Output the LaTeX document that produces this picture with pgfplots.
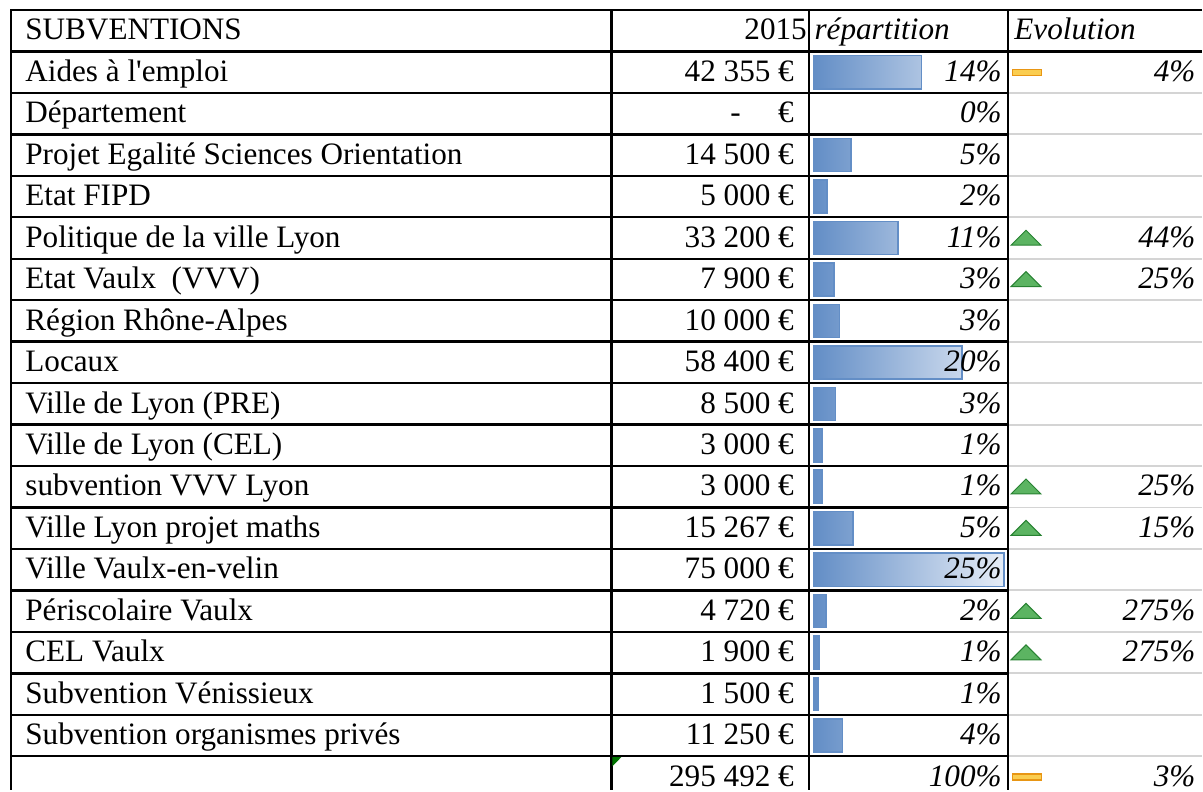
\documentclass[border=0pt]{standalone}
\usepackage{fontspec}
\setmainfont{Liberation Serif}
\usepackage{pgfplots}
\pgfplotsset{compat=1.18}
\usepackage{pgfplotstable}

\definecolor{barblue}{RGB}{99,142,198}
\definecolor{barlight}{RGB}{230,237,247}
\definecolor{gridgray}{RGB}{212,212,212}
\definecolor{trifill}{RGB}{92,180,98}
\definecolor{tridraw}{RGB}{40,130,50}
\definecolor{flatfill}{RGB}{250,205,80}
\definecolor{flatdraw}{RGB}{232,150,20}

% amounts (euros) per row of the table
\pgfplotstableread{
row value
1 42355
3 14500
4 5000
5 33200
6 7900
7 10000
8 58400
9 8500
10 3000
11 3000
12 15267
13 75000
14 4720
15 1900
16 1500
17 11250
}\subv

% evolution: increases
\pgfplotstableread{
row evo
5 44
6 25
11 25
12 15
14 275
15 275
}\up
% evolution: stable
\pgfplotstableread{
row evo
1 4
18 3
}\flat

\pgfdeclareplotmark{evotri}{%
  \pgfpathmoveto{\pgfqpoint{-7.5pt}{-3.6pt}}%
  \pgfpathlineto{\pgfqpoint{7.5pt}{-3.6pt}}%
  \pgfpathlineto{\pgfqpoint{0pt}{3.9pt}}%
  \pgfpathclose\pgfusepathqfillstroke}
\pgfdeclareplotmark{evoflat}{%
  \pgfpathrectangle{\pgfqpoint{-7.3pt}{-1.5pt}}{\pgfqpoint{14.6pt}{3pt}}%
  \pgfusepathqfillstroke}

\pgfplotsset{tbl/.style={scale only axis, width=601.5pt, height=395.5pt,
  hide axis, ymin=-0.7410, ymax=18.3193, y dir=reverse, clip=false}}

\tikzset{
  lab/.style={anchor=base west, yshift=-4.6pt, inner sep=0pt, font=\fontsize{15.6}{18}\selectfont},
  num/.style={anchor=base east, yshift=-4.6pt, inner sep=0pt, font=\fontsize{15.6}{18}\selectfont},
  pct/.style={anchor=base east, yshift=-4.6pt, inner sep=0pt, font=\fontsize{15.6}{18}\selectfont\itshape},
  blk/.style={black, line width=1.2pt},
  gry/.style={gridgray, line width=1pt},
}

\begin{document}
\begin{tikzpicture}
% ---- bars (0 euro at pixel 815, 75000 euro at pixel 1005)
\begin{axis}[tbl, xmin=-321710.53, xmax=153157.89]
\path (rel axis cs:0,0) rectangle (rel axis cs:1,1);
\addplot[xbar, bar width=0.8, draw=barblue, line width=0.75pt,
  left color=barblue, right color=barlight] table[x=value, y=row] {\subv};
\end{axis}
% ---- table, texts and icons (x in pixels, y in rows)
\begin{axis}[tbl, xmin=0, xmax=1203]
\path (rel axis cs:0,0) rectangle (rel axis cs:1,1);
% grid
\pgfplotsinvokeforeach{1.5,2.5,3.5,4.5,5.5,6.5,7.5,8.5,9.5,10.5,11.5,12.5,13.5,14.5,15.5,16.5,17.5}{
  \draw[gry] (axis cs:1009,#1) -- (axis cs:1203,#1);
  \draw[blk] (axis cs:11,#1) -- (axis cs:1009,#1);
}
\draw[blk] (axis cs:10.4,-0.5) -- (axis cs:1203,-0.5);
\draw[blk] (axis cs:11,0.5) -- (axis cs:1203,0.5);
\pgfplotsinvokeforeach{11,612,810,1009}{
  \draw[blk] (axis cs:#1,-0.5) -- (axis cs:#1,18.3193);
}
\fill[green!45!black] (axis cs:613,17.52) -- (axis cs:622,17.52) -- (axis cs:613,17.74) -- cycle;
% icons
\addplot[only marks, mark=evotri, mark options={fill=trifill, draw=tridraw, line width=0.5pt}]
  table[x expr=1027, y=row] {\up};
\addplot[only marks, mark=evoflat, mark options={fill=flatfill, draw=flatdraw, line width=0.6pt}]
  table[x expr=1028, y=row] {\flat};
% header
\node[lab] at (axis cs:25,0) {SUBVENTIONS};
\node[num] at (axis cs:808,0) {2015};
\node[lab,font=\fontsize{15.6}{18}\selectfont\itshape] at (axis cs:815,0) {répartition};
\node[lab,font=\fontsize{15.6}{18}\selectfont\itshape] at (axis cs:1015,0) {Evolution};
% labels
\node[lab] at (axis cs:25,1) {Aides à l\textquotesingle emploi};
\node[lab] at (axis cs:25,2) {Département};
\node[lab] at (axis cs:25,3) {Projet Egalité Sciences Orientation};
\node[lab] at (axis cs:25,4) {Etat FIPD};
\node[lab] at (axis cs:25,5) {Politique de la ville Lyon};
\node[lab] at (axis cs:25,6) {Etat Vaulx\ \ (VVV)};
\node[lab] at (axis cs:25,7) {Région Rhône-Alpes};
\node[lab] at (axis cs:25,8) {Locaux};
\node[lab] at (axis cs:25,9) {Ville de Lyon (PRE)};
\node[lab] at (axis cs:25,10) {Ville de Lyon (CEL)};
\node[lab] at (axis cs:25,11) {subvention VVV Lyon};
\node[lab] at (axis cs:25,12) {Ville Lyon projet maths};
\node[lab] at (axis cs:25,13) {Ville Vaulx-en-velin};
\node[lab] at (axis cs:25,14) {Périscolaire Vaulx};
\node[lab] at (axis cs:25,15) {CEL Vaulx};
\node[lab] at (axis cs:25,16) {Subvention Vénissieux};
\node[lab] at (axis cs:25,17) {Subvention organismes privés};
% amounts
\node[num] at (axis cs:795,1) {42 355 €};
\node[num] at (axis cs:742,2) {-};
\node[num] at (axis cs:795,2) {€};
\node[num] at (axis cs:795,3) {14 500 €};
\node[num] at (axis cs:795,4) {5 000 €};
\node[num] at (axis cs:795,5) {33 200 €};
\node[num] at (axis cs:795,6) {7 900 €};
\node[num] at (axis cs:795,7) {10 000 €};
\node[num] at (axis cs:795,8) {58 400 €};
\node[num] at (axis cs:795,9) {8 500 €};
\node[num] at (axis cs:795,10) {3 000 €};
\node[num] at (axis cs:795,11) {3 000 €};
\node[num] at (axis cs:795,12) {15 267 €};
\node[num] at (axis cs:795,13) {75 000 €};
\node[num] at (axis cs:795,14) {4 720 €};
\node[num] at (axis cs:795,15) {1 900 €};
\node[num] at (axis cs:795,16) {1 500 €};
\node[num] at (axis cs:795,17) {11 250 €};
\node[num] at (axis cs:795,18) {295 492 €};
% shares
\node[pct] at (axis cs:1003,1) {14\%};
\node[pct] at (axis cs:1003,2) {0\%};
\node[pct] at (axis cs:1003,3) {5\%};
\node[pct] at (axis cs:1003,4) {2\%};
\node[pct] at (axis cs:1003,5) {11\%};
\node[pct] at (axis cs:1003,6) {3\%};
\node[pct] at (axis cs:1003,7) {3\%};
\node[pct] at (axis cs:1003,8) {20\%};
\node[pct] at (axis cs:1003,9) {3\%};
\node[pct] at (axis cs:1003,10) {1\%};
\node[pct] at (axis cs:1003,11) {1\%};
\node[pct] at (axis cs:1003,12) {5\%};
\node[pct] at (axis cs:1003,13) {25\%};
\node[pct] at (axis cs:1003,14) {2\%};
\node[pct] at (axis cs:1003,15) {1\%};
\node[pct] at (axis cs:1003,16) {1\%};
\node[pct] at (axis cs:1003,17) {4\%};
\node[pct] at (axis cs:1003,18) {100\%};
% evolution
\node[pct] at (axis cs:1197,1) {4\%};
\node[pct] at (axis cs:1197,5) {44\%};
\node[pct] at (axis cs:1197,6) {25\%};
\node[pct] at (axis cs:1197,11) {25\%};
\node[pct] at (axis cs:1197,12) {15\%};
\node[pct] at (axis cs:1197,14) {275\%};
\node[pct] at (axis cs:1197,15) {275\%};
\node[pct] at (axis cs:1197,18) {3\%};
\end{axis}
\end{tikzpicture}
\end{document}
